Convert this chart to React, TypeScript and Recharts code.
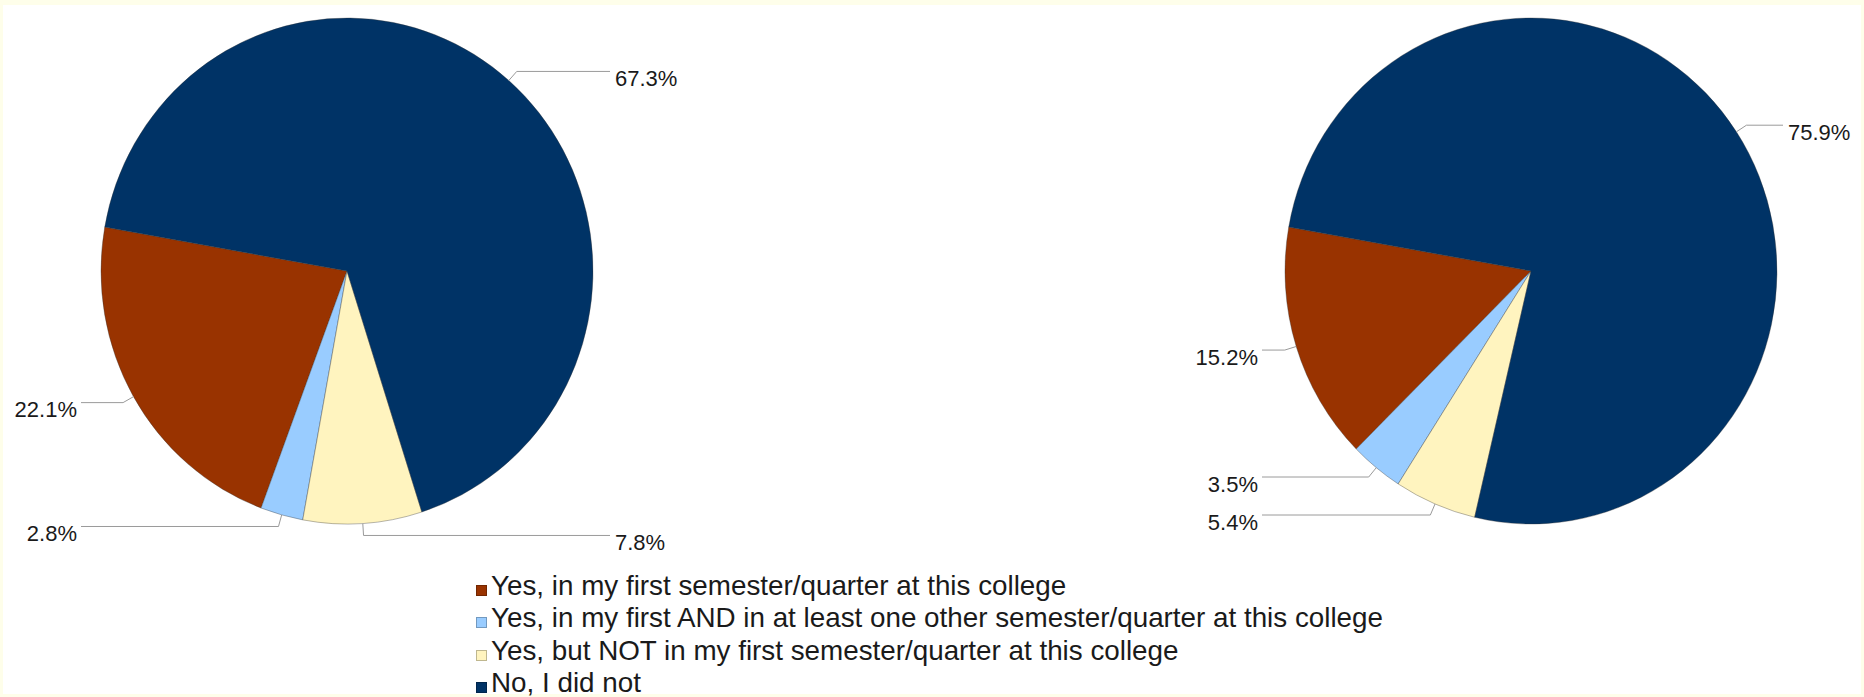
import React from 'react'
import { PieChart, Pie, Cell, Legend } from 'recharts'

// answer options, in legend order
const categories = [
  'Yes, in my first semester/quarter at this college',
  'Yes, in my first AND in at least one other semester/quarter at this college',
  'Yes, but NOT in my first semester/quarter at this college',
  'No, I did not',
]
const leftValues = [22.1, 2.8, 7.8, 67.3]
const rightValues = [15.2, 3.5, 5.4, 75.9]
const colors = ['#993300', '#99ccff', '#fff4bf', '#003366']

const leftData = categories.map((name, i) => ({ name, value: leftValues[i] }))
const rightData = categories.map((name, i) => ({ name, value: rightValues[i] }))

const FONT = '"Liberation Sans", Arial, sans-serif'
const RY_SCALE = 253 / 246 // the pies are slightly taller than wide
const EXT = 12

const ellipsePoint = (cx: number, cy: number, rx: number, ry: number, deg: number) => {
  const a = (deg * Math.PI) / 180
  return [cx + rx * Math.cos(a), cy - ry * Math.sin(a)]
}

const EllipseSector = (props: any) => {
  const { cx, cy, outerRadius, startAngle, endAngle, fill } = props
  const rx = outerRadius
  const ry = outerRadius * RY_SCALE
  const [x1, y1] = ellipsePoint(cx, cy, rx, ry, startAngle)
  const [x2, y2] = ellipsePoint(cx, cy, rx, ry, endAngle)
  const large = Math.abs(endAngle - startAngle) > 180 ? 1 : 0
  const sweep = endAngle > startAngle ? 0 : 1
  return (
    <path
      d={`M${cx},${cy} L${x1},${y1} A${rx},${ry} 0 ${large} ${sweep} ${x2},${y2} Z`}
      fill={fill}
      stroke="#333"
      strokeOpacity={0.45}
      strokeWidth={0.8}
    />
  )
}

const makeLabel = (leftCol: number, rightCol: number) => (p: any) => {
  const { cx, cy, outerRadius, midAngle, value } = p
  const rx = outerRadius
  const ry = outerRadius * RY_SCALE
  const [x0, y0] = ellipsePoint(cx, cy, rx, ry, midAngle)
  const [x1, y1] = ellipsePoint(cx, cy, rx + EXT, ry + EXT, midAngle)
  const right = Math.cos((midAngle * Math.PI) / 180) >= 0
  const xEnd = right ? cx + rightCol : cx - leftCol
  return (
    <g>
      <polyline
        points={`${x0},${y0} ${x1},${y1} ${xEnd},${y1}`}
        fill="none"
        stroke="#9a9a9a"
        strokeWidth={1}
      />
      <text
        x={right ? xEnd + 5 : xEnd - 4}
        y={y1 + 7}
        textAnchor={right ? 'start' : 'end'}
        dominantBaseline="central"
        fontFamily={FONT}
        fontSize={22}
        fill="#1a1a1a"
      >
        {`${value.toFixed(1)}%`}
      </text>
    </g>
  )
}

const LegendBox = () => (
  <div style={{ fontFamily: FONT, fontSize: 27.8, color: '#1a1a1a', lineHeight: '32.4px' }}>
    {categories.map((c, i) => (
      <div key={c} style={{ display: 'flex', alignItems: 'center', whiteSpace: 'nowrap' }}>
        <span
          style={{
            display: 'inline-block',
            width: 11,
            height: 11,
            marginTop: 8,
            marginRight: 4,
            background: colors[i],
            border: '1px solid rgba(0,0,0,0.25)',
            boxSizing: 'border-box',
          }}
        />
        {c}
      </div>
    ))}
  </div>
)

export default function App() {
  return (
    <div
      style={{
        position: 'absolute',
        top: 0,
        left: 0,
        width: 1864,
        height: 697,
        background: '#fefeea',
      }}
    >
      <div
        style={{
          position: 'absolute',
          top: 5,
          left: 3,
          right: 3,
          bottom: 3,
          background: '#ffffff',
        }}
      />
      <div style={{ position: 'absolute', top: 0, left: 0 }}>
        <PieChart width={1864} height={697} margin={{ top: 0, right: 0, bottom: 0, left: 0 }}>
          <Pie
            data={leftData}
            dataKey="value"
            cx={347}
            cy={271}
            outerRadius={246}
            startAngle={170}
            endAngle={530}
            shape={EllipseSector}
            label={makeLabel(266, 263)}
            labelLine={false}
            isAnimationActive={false}
          >
            {leftData.map((d, i) => (
              <Cell key={d.name} fill={colors[i]} />
            ))}
          </Pie>
          <Pie
            data={rightData}
            dataKey="value"
            cx={1531}
            cy={271}
            outerRadius={246}
            startAngle={170}
            endAngle={530}
            shape={EllipseSector}
            label={makeLabel(269, 252)}
            labelLine={false}
            isAnimationActive={false}
          >
            {rightData.map((d, i) => (
              <Cell key={d.name} fill={colors[i]} />
            ))}
          </Pie>
          <Legend
            verticalAlign="bottom"
            align="left"
            wrapperStyle={{ left: 476, top: 570, bottom: 'auto', width: 'auto' }}
            content={() => <LegendBox />}
          />
        </PieChart>
      </div>
    </div>
  )
}
